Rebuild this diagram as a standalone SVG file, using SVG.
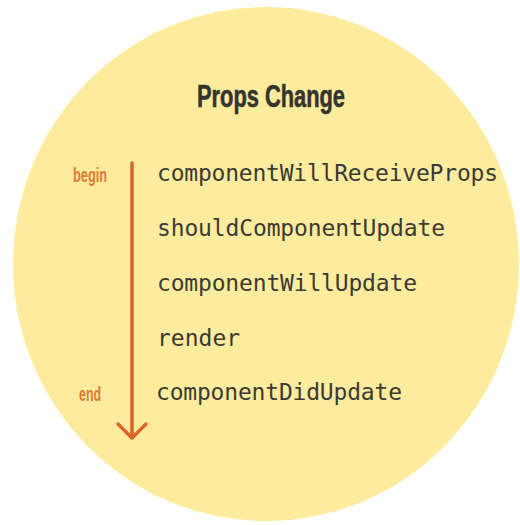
<svg xmlns="http://www.w3.org/2000/svg" width="520" height="525" viewBox="0 0 520 525">
<defs>
<style>
.title{font-family:"Liberation Sans Narrow","Liberation Sans",sans-serif;font-weight:bold;font-size:32px;fill:#35332d;stroke:#35332d;stroke-width:0.6;}
.lbl{font-family:"Liberation Sans Narrow","Liberation Sans",sans-serif;font-weight:bold;font-size:20px;fill:#e07a38;}
.m{font-family:"DejaVu Sans Mono","Liberation Mono",monospace;font-size:23px;fill:#3b3a33;}
.arr{fill:none;stroke:#dd6428;stroke-width:3.5;stroke-linecap:round;stroke-linejoin:round;}
</style>
</defs>
<rect width="520" height="525" fill="#ffffff"/>
<ellipse id="bg" cx="266" cy="264" rx="253" ry="257" fill="#fdec9d"/>
<g id="title"><text class="title" x="197" y="107" textLength="148" lengthAdjust="spacingAndGlyphs">Props Change</text></g>
<g id="begin"><text class="lbl" x="73" y="182" textLength="34" lengthAdjust="spacingAndGlyphs">begin</text></g>
<g id="end"><text class="lbl" x="79" y="401" textLength="22" lengthAdjust="spacingAndGlyphs">end</text></g>
<g id="connectors">
<line class="arr" x1="132" y1="163" x2="132" y2="437"/>
<polyline class="arr" points="118,424 132,438 146,424"/>
</g>
<g id="n1"><text class="m" x="157" y="181" textLength="341" lengthAdjust="spacing">componentWillReceiveProps</text></g>
<g id="n2"><text class="m" x="157" y="236" textLength="288" lengthAdjust="spacing">shouldComponentUpdate</text></g>
<g id="n3"><text class="m" x="157" y="291" textLength="260" lengthAdjust="spacing">componentWillUpdate</text></g>
<g id="n4"><text class="m" x="157" y="346">render</text></g>
<g id="n5"><text class="m" x="156" y="400" textLength="246" lengthAdjust="spacing">componentDidUpdate</text></g>
</svg>
